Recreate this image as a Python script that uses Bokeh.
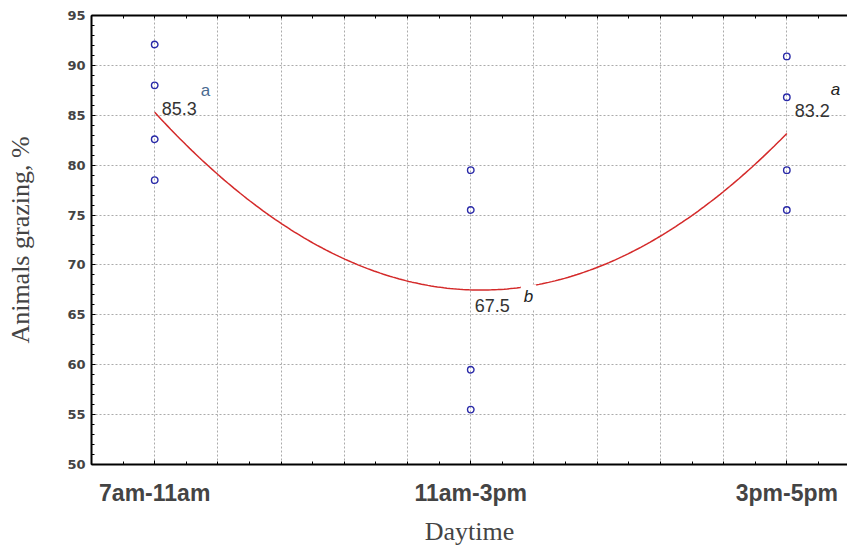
import numpy as np
from bokeh.plotting import figure
from bokeh.models import (LinearAxis, FixedTicker, Range1d, Label, Grid)
from bokeh.embed import file_html
from bokeh.resources import INLINE

# ---- data ----
categories = ["7am-11am", "11am-3pm", "3pm-5pm"]
cat_pos = [1, 2, 3]
x_points = [1, 1, 1, 1, 2, 2, 2, 2, 3, 3, 3, 3]
y_points = [92.1, 88.0, 82.6, 78.5, 79.5, 75.5, 59.5, 55.5, 90.9, 86.8, 79.5, 75.5]
y_ticks = [50, 55, 60, 65, 70, 75, 80, 85, 90, 95]
mean_letters = ["a", "b", "a"]

xs = np.array(x_points, dtype=float)
ys = np.array(y_points, dtype=float)
means = [float(np.mean(ys[xs == c])) for c in cat_pos]
coef = np.polyfit(xs, ys, 2)
cx = np.linspace(1, 3, 200)
cy = np.polyval(coef, cx)

p = figure(frame_width=756, frame_height=449, output_backend="svg", toolbar_location=None,
           x_range=Range1d(0.8, 3.192), y_range=Range1d(50, 95),
           min_border_left=91, min_border_right=0, min_border_top=15, min_border_bottom=70,
           x_axis_type=None, y_axis_type=None)
p.outline_line_color = None
p.background_fill_color = "white"
p.border_fill_color = "white"

minor_x = [round(0.8 + 0.1 * i, 2) for i in range(25)]
grid_x = [round(0.8 + 0.2 * i, 2) for i in range(13)]

# bottom axis
xb = LinearAxis(ticker=FixedTicker(ticks=cat_pos, minor_ticks=minor_x))
xb.major_label_overrides = {c: l for c, l in zip(cat_pos, categories)}
xb.axis_label = "Daytime"
xb.axis_label_text_font = "Liberation Serif"
xb.axis_label_text_font_style = "normal"
xb.axis_label_text_font_size = "26px"
xb.axis_label_standoff = 8
xb.major_label_text_font = "Liberation Sans Narrow, Arial Narrow, sans-serif"
xb.major_label_text_font_style = "bold"
xb.major_label_text_font_size = "23px"
xb.major_label_standoff = 15
xb.axis_line_width = 2
xb.major_tick_in = 4
xb.major_tick_out = 0
xb.minor_tick_in = 3
xb.minor_tick_out = 0
p.add_layout(xb, "below")

# top axis (frame line)
xt = LinearAxis(ticker=FixedTicker(ticks=[], minor_ticks=minor_x))
xt.major_label_text_font_size = "0px"
xt.axis_line_width = 2
xt.minor_tick_in = 3
xt.minor_tick_out = 0
xt.major_tick_in = 0
xt.major_tick_out = 0
p.add_layout(xt, "above")

# left axis
yl = LinearAxis(ticker=FixedTicker(ticks=y_ticks, minor_ticks=list(range(50, 96))))
yl.axis_label = "Animals grazing, %"
yl.axis_label_text_font = "Liberation Serif"
yl.axis_label_text_font_style = "normal"
yl.axis_label_text_font_size = "26px"
yl.axis_label_standoff = 29
yl.major_label_text_font = "DejaVu Sans"
yl.major_label_text_font_style = "bold"
yl.major_label_text_font_size = "13px"
yl.major_label_standoff = 6
yl.axis_line_width = 2
yl.major_tick_in = 4
yl.major_tick_out = 0
yl.minor_tick_in = 3
yl.minor_tick_out = 0
p.add_layout(yl, "left")

# grids
gx = Grid(dimension=0, ticker=FixedTicker(ticks=grid_x), grid_line_color="#ababab",
          grid_line_dash="2 2", grid_line_width=1)
gy = Grid(dimension=1, ticker=FixedTicker(ticks=y_ticks), grid_line_color="#ababab",
          grid_line_dash="2 2", grid_line_width=1)
p.add_layout(gx)
p.add_layout(gy)

# fitted curve
p.line(cx, cy, line_color="#d42a2a", line_width=1.5)

# points
p.scatter(x_points, y_points, marker="circle", size=6.5, fill_color=None,
          line_color="#2a2aa8", line_width=1.4)

# mean labels
num_offsets = [(7, 4), (4, -16), (8, 23)]
let_offsets = [(46, 22), (50, -7), (44, 44)]
let_styles = ["normal", "italic", "italic"]
let_colors = ["#4a6a90", "#222222", "#222222"]
for i, c in enumerate(cat_pos):
    p.add_layout(Label(x=c, y=means[i], x_offset=num_offsets[i][0], y_offset=num_offsets[i][1],
                       text="%.1f" % means[i], text_font="Liberation Sans", text_font_size="18px",
                       text_color="#333333", text_baseline="alphabetic"))
    lab = Label(x=c, y=means[i], x_offset=let_offsets[i][0], y_offset=let_offsets[i][1],
                text=mean_letters[i], text_font="Liberation Sans", text_font_size="17px",
                text_font_style=let_styles[i], text_color=let_colors[i], text_baseline="alphabetic")
    if i == 1:
        lab.background_fill_color = "white"
        lab.padding = 3
    p.add_layout(lab)

open("out.html", "w").write(file_html(p, INLINE))
